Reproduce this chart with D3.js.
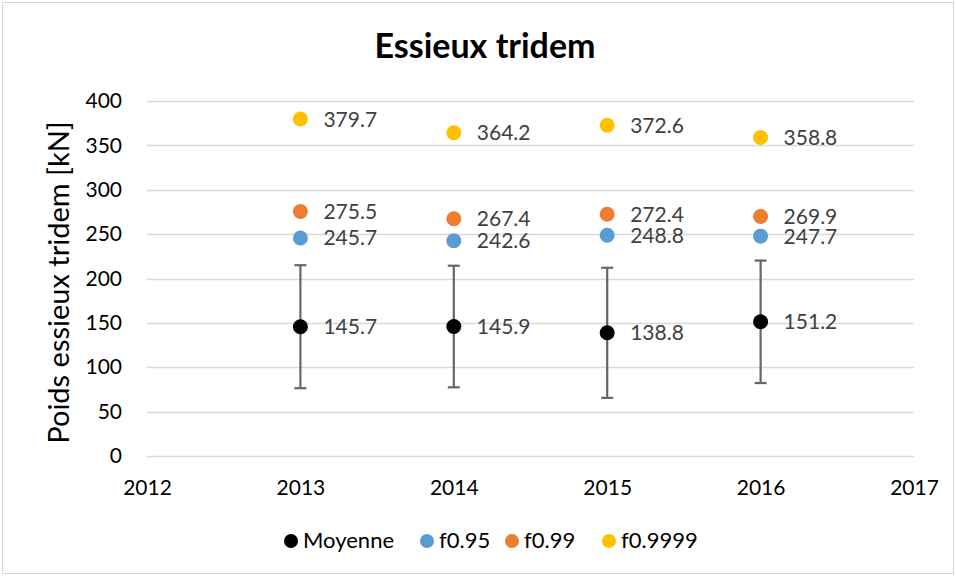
<!DOCTYPE html>
<html>
<head>
<meta charset="utf-8">
<script src="https://cdn.jsdelivr.net/npm/d3@7"></script>
<style>
  html, body { margin: 0; padding: 0; background: #fff; }
  svg { display: block; }
  text { font-family: Lato, "Open Sans", "Liberation Sans", sans-serif; }
</style>
</head>
<body>
<svg id="chart" width="956" height="576"></svg>
<script>
// Years on the x axis
const years = [2013, 2014, 2015, 2016];
// Mean tridem axle weight and its standard deviation (kN)
const moyenne = [145.7, 145.9, 138.8, 151.2];
const ecart = [69.3, 68.5, 73.3, 69.0];
// Fractiles
const f095 = [245.7, 242.6, 248.8, 247.7];
const f099 = [275.5, 267.4, 272.4, 269.9];
const f09999 = [379.7, 364.2, 372.6, 358.8];
// Axis ticks
const xTicks = [2012, 2013, 2014, 2015, 2016, 2017];
const yTicks = [0, 50, 100, 150, 200, 250, 300, 350, 400];

const seriesNames = ["Moyenne", "f0.95", "f0.99", "f0.9999"];
const seriesColors = ["#000000", "#5B9BD5", "#ED7D31", "#FFC000"];
const seriesValues = [moyenne, f095, f099, f09999];

const svg = d3.select("#chart");
const W = 956, H = 576;
const margin = { left: 147, right: 42, top: 101, bottom: 120 };

// Outer frame
svg.append("rect")
  .attr("x", 2.5).attr("y", 2.5).attr("width", W - 5).attr("height", H - 5)
  .attr("fill", "#fff").attr("stroke", "#d9d9d9").attr("stroke-width", 1);

const x = d3.scaleLinear().domain([2012, 2017]).range([margin.left, W - margin.right]);
const y = d3.scaleLinear().domain([0, 400]).range([H - margin.bottom, margin.top]);

// Title
svg.append("text")
  .attr("x", 485).attr("y", 58)
  .attr("text-anchor", "middle")
  .attr("font-size", 34).attr("font-weight", "bold").attr("fill", "#000")
  .text("Essieux tridem");

// Horizontal gridlines
svg.append("g")
  .selectAll("line").data(yTicks).join("line")
  .attr("x1", x(2012)).attr("x2", x(2017))
  .attr("y1", d => Math.round(y(d)) + 0.5).attr("y2", d => Math.round(y(d)) + 0.5)
  .attr("stroke", "#d9d9d9").attr("stroke-width", 1.3);

// Y axis labels
const yAxis = d3.axisLeft(y).tickValues(yTicks).tickSize(0).tickPadding(25);
const gy = svg.append("g").attr("transform", `translate(${x(2012)},0)`).call(yAxis);
gy.select(".domain").remove();
gy.selectAll("text").attr("font-size", 21).attr("fill", "#000")
  .attr("font-family", "Lato, 'Open Sans', sans-serif");

// X axis labels
const xAxis = d3.axisBottom(x).tickValues(xTicks).tickFormat(d3.format("d")).tickSize(0).tickPadding(24);
const gx = svg.append("g").attr("transform", `translate(0,${y(0)})`).call(xAxis);
gx.select(".domain").remove();
gx.selectAll("text").attr("font-size", 21).attr("fill", "#000")
  .attr("font-family", "Lato, 'Open Sans', sans-serif");

// Y axis title
svg.append("text")
  .attr("transform", `translate(69,${(y(0) + y(400)) / 2 + 4}) rotate(-90)`)
  .attr("text-anchor", "middle")
  .attr("font-size", 29).attr("fill", "#000")
  .text("Poids essieux tridem [kN]");

// Error bars on the mean
const eb = svg.append("g");
years.forEach((yr, i) => {
  const cx = x(yr);
  const top = y(moyenne[i] + ecart[i]);
  const bot = y(moyenne[i] - ecart[i]);
  eb.append("line").attr("x1", cx).attr("x2", cx).attr("y1", top).attr("y2", bot)
    .attr("stroke", "#666").attr("stroke-width", 2.2);
  [top, bot].forEach(yy => {
    eb.append("line").attr("x1", cx - 6).attr("x2", cx + 6).attr("y1", yy).attr("y2", yy)
      .attr("stroke", "#666").attr("stroke-width", 2.2);
  });
});

// Points and value labels
seriesValues.forEach((vals, s) => {
  const g = svg.append("g");
  g.selectAll("circle").data(years).join("circle")
    .attr("cx", d => x(d)).attr("cy", (d, i) => y(vals[i]))
    .attr("r", 7.5).attr("fill", seriesColors[s]);
  g.selectAll("text").data(years).join("text")
    .attr("x", d => x(d) + 23).attr("y", (d, i) => y(vals[i]) + 7.5)
    .attr("font-size", 21).attr("fill", "#404040")
    .text((d, i) => vals[i].toFixed(1));
});

// Legend
const legendX = [291, 427, 512, 609];
const leg = svg.append("g");
seriesNames.forEach((name, i) => {
  leg.append("circle").attr("cx", legendX[i]).attr("cy", 541).attr("r", 7).attr("fill", seriesColors[i]);
  leg.append("text").attr("x", legendX[i] + 12).attr("y", 548)
    .attr("font-size", 22).attr("fill", "#000").text(name);
});
</script>
</body>
</html>
